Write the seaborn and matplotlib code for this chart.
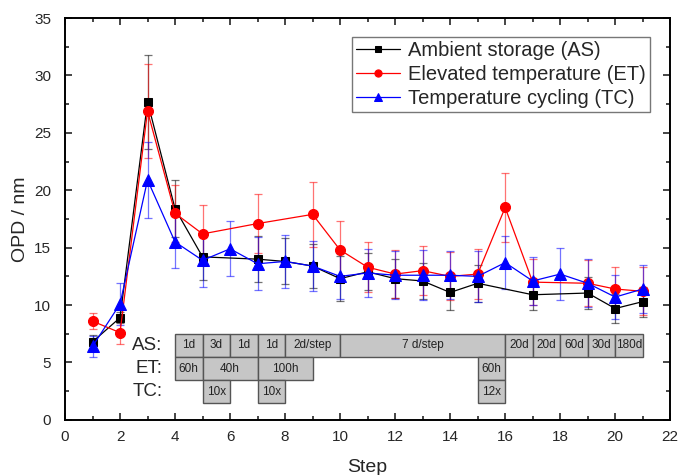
import numpy as np
import pandas as pd
import matplotlib
matplotlib.use("Agg")
import matplotlib.pyplot as plt
import seaborn as sns
from matplotlib.patches import Rectangle
from matplotlib.ticker import MultipleLocator

sns.set_theme(style="ticks")
plt.rcParams['font.family'] = ['Liberation Sans', 'DejaVu Sans']

# ---- data ----
as_steps = [1, 2, 3, 4, 5, 7, 8, 9, 10, 11, 12, 13, 14, 15, 17, 19, 20, 21]
as_vals = [6.8, 8.9, 27.7, 18.4, 14.2, 14.0, 13.8, 13.4, 12.3, 12.9, 12.3, 12.1, 11.1, 11.9, 10.9, 11.05, 9.7, 10.3]
as_err = [0.6, 0.5, 4.1, 2.5, 2.0, 2.0, 2.0, 1.9, 1.95, 1.6, 1.7, 1.6, 1.5, 1.6, 1.3, 1.4, 1.3, 1.3]

et_steps = [1, 2, 3, 4, 5, 7, 9, 10, 11, 12, 13, 14, 15, 16, 17, 19, 20, 21]
et_vals = [8.6, 7.6, 26.9, 18.0, 16.2, 17.1, 17.9, 14.8, 13.3, 12.7, 13.0, 12.5, 12.7, 18.5, 12.0, 11.9, 11.4, 11.2]
et_err = [0.7, 1.0, 4.1, 2.5, 2.5, 2.6, 2.8, 2.5, 2.2, 2.1, 2.15, 2.1, 2.2, 3.0, 2.0, 2.0, 1.95, 2.1]

tc_steps = [1, 2, 3, 4, 5, 6, 7, 8, 9, 10, 11, 12, 13, 14, 15, 16, 17, 18, 19, 20, 21]
tc_vals = [6.4, 10.1, 20.9, 15.5, 13.9, 14.9, 13.6, 13.8, 13.4, 12.5, 12.8, 12.6, 12.6, 12.6, 12.5, 13.7, 12.1, 12.7, 11.9, 10.7, 11.4]
tc_err = [0.9, 1.8, 3.3, 2.3, 2.3, 2.4, 2.3, 2.3, 2.2, 2.0, 2.1, 2.1, 2.2, 2.1, 2.2, 2.3, 2.1, 2.3, 2.1, 1.9, 2.1]

series_labels = ["Ambient storage (AS)", "Elevated temperature (ET)", "Temperature cycling (TC)"]

# condition table: (start step, end step, text)
as_cells = [(4, 5, "1d"), (5, 6, "3d"), (6, 7, "1d"), (7, 8, "1d"), (8, 10, "2d/step"),
            (10, 16, "7 d/step"), (16, 17, "20d"), (17, 18, "20d"), (18, 19, "60d"),
            (19, 20, "30d"), (20, 21, "180d")]
et_cells = [(4, 5, "60h"), (5, 7, "40h"), (7, 9, "100h"), (15, 16, "60h")]
tc_cells = [(5, 6, "10x"), (7, 8, "10x"), (15, 16, "12x")]
row_names = ["AS:", "ET:", "TC:"]

fig = plt.figure(figsize=(6.8, 4.75), dpi=100)
ax = fig.add_axes([0.0956, 0.116, 0.890, 0.846])

specs = [
    (as_steps, as_vals, as_err, "black", "s", 6.2, 4.5),
    (et_steps, et_vals, et_err, "red", "o", 7.2, 5.2),
    (tc_steps, tc_vals, tc_err, "blue", "^", 8.0, 5.5),
]
for (st, v, e, c, m, ms, lms), lab in zip(specs, series_labels):
    df = pd.DataFrame({"Step": st, "OPD": v})
    ax.errorbar(st, v, yerr=e, fmt="none", ecolor=c, elinewidth=0.9, capsize=3,
                capthick=0.9, alpha=0.55, zorder=2)
    sns.lineplot(data=df, x="Step", y="OPD", ax=ax, color=c, marker=m, markersize=ms,
                 markeredgecolor=c, linewidth=0.9, label=lab, zorder=3, estimator=None)

# table
rows = [(as_cells, 7.5, 5.47), (et_cells, 5.47, 3.45), (tc_cells, 3.45, 1.45)]
for cells, top, bot in rows:
    for a, b, t in cells:
        ax.add_patch(Rectangle((a, bot), b - a, top - bot, facecolor="#c6c6c6",
                               edgecolor="#555555", linewidth=1.0, zorder=4))
        ax.text((a + b) / 2, (top + bot) / 2, t, ha="center", va="center",
                fontsize=8.5, color="#222222", zorder=5)
for name, (cells, top, bot) in zip(row_names, rows):
    ax.text(3.55, (top + bot) / 2, name, ha="right", va="center", fontsize=13.5, zorder=5)

ax.set_xlim(0, 22)
ax.set_ylim(0, 35)
ax.xaxis.set_major_locator(MultipleLocator(2))
ax.xaxis.set_minor_locator(MultipleLocator(1))
ax.yaxis.set_major_locator(MultipleLocator(5))
ax.yaxis.set_minor_locator(MultipleLocator(2.5))
ax.tick_params(which="both", direction="in", top=True, right=True, width=1.2, labelsize=11)
ax.tick_params(which="major", length=5)
ax.tick_params(which="minor", length=3)
ax.tick_params(axis="x", which="major", pad=7)
ax.tick_params(axis="y", which="major", pad=10)
for s in ax.spines.values():
    s.set_visible(True)
    s.set_linewidth(1.4)
    s.set_color("black")
ax.set_xlabel("Step", fontsize=14, labelpad=11)
ax.set_ylabel("OPD / nm", fontsize=14, labelpad=4)

leg = ax.legend(loc="upper right", bbox_to_anchor=(0.967, 0.952), borderaxespad=0,
                fontsize=14.5, frameon=True, fancybox=False, handlelength=2.2,
                handletextpad=0.4, borderpad=0.2, labelspacing=0.25)
leg.get_frame().set_edgecolor("#555555")
leg.get_frame().set_linewidth(1.0)
for h, (_, _, _, _, _, _, lms) in zip(leg.legend_handles, specs):
    h.set_markersize(lms)

fig.savefig("out.png", dpi=100)
